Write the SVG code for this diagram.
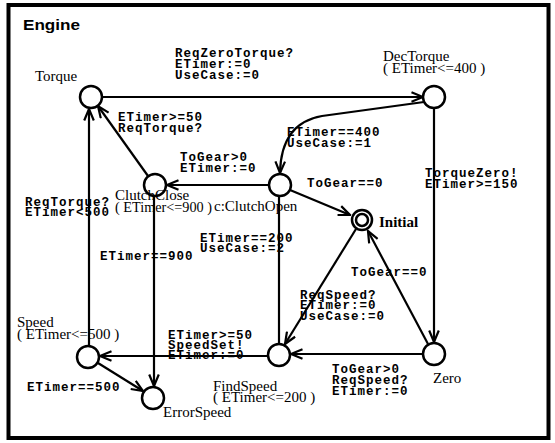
<svg xmlns="http://www.w3.org/2000/svg" width="555" height="443" viewBox="0 0 555 443">
<style>
.st{fill:#fff;stroke:#000;stroke-width:2.5}
.e{fill:none;stroke:#000;stroke-width:2.2}
.m{font-family:"Liberation Mono","Courier New",monospace;font-size:12.5px;font-weight:bold;letter-spacing:1px;fill:#000}
.n{font-family:"Liberation Serif","Times New Roman",serif;font-size:15px;fill:#000}
</style>
<defs>
<marker id="arr" viewBox="0 0 14 12" markerWidth="14" markerHeight="12" refX="12.5" refY="6" orient="auto" markerUnits="userSpaceOnUse">
<path d="M1,1.2 L12.5,6 L1,10.8" fill="none" stroke="#000" stroke-width="2.2"/>
</marker>
</defs>
<rect x="0" y="0" width="555" height="443" fill="#fff"/>
<rect x="8.5" y="5" width="540" height="433" fill="none" stroke="#000" stroke-width="4"/>
<text x="23" y="30" font-family="Liberation Sans,Arial,sans-serif" font-size="15" font-weight="bold" textLength="57" lengthAdjust="spacingAndGlyphs">Engine</text>

<g id="connectors">
<path class="e" d="M103,97 L423,97" marker-end="url(#arr)"/>
<path class="e" d="M424,102 L322,116 Q281,123 280,173" marker-end="url(#arr)"/>
<path class="e" d="M434,108 L434,342" marker-end="url(#arr)"/>
<path class="e" d="M269,185 L167,185" marker-end="url(#arr)"/>
<path class="e" d="M148,176 L98,106" marker-end="url(#arr)"/>
<path class="e" d="M89,346 L89,109" marker-end="url(#arr)"/>
<path class="e" d="M154,196 L154,386" marker-end="url(#arr)"/>
<path class="e" d="M290,190 L350,215" marker-end="url(#arr)"/>
<path class="e" d="M279,344 L279,196"/>
<path class="e" d="M356,229 L285,344" marker-end="url(#arr)"/>
<path class="e" d="M428,344 L368,231" marker-end="url(#arr)"/>
<path class="e" d="M423,354 L291,354" marker-end="url(#arr)"/>
<path class="e" d="M268,356 L100,356" marker-end="url(#arr)"/>
<path class="e" d="M98,363 L143,391" marker-end="url(#arr)"/>
</g>

<g id="edge-labels">
<text class="m" x="175" y="57">ReqZeroTorque?</text>
<text class="m" x="175" y="68">ETimer:=0</text>
<text class="m" x="175" y="79">UseCase:=0</text>
<text class="m" x="118" y="121">ETimer&gt;=50</text>
<text class="m" x="118" y="132">ReqTorque?</text>
<text class="m" x="287" y="136">ETimer==400</text>
<text class="m" x="287" y="147">UseCase:=1</text>
<text class="m" x="425" y="177">TorqueZero!</text>
<text class="m" x="425" y="188">ETimer&gt;=150</text>
<text class="m" x="180" y="161">ToGear&gt;0</text>
<text class="m" x="180" y="172">ETimer:=0</text>
<text class="m" x="307" y="187">ToGear==0</text>
<text class="m" x="25" y="206">ReqTorque?</text>
<text class="m" x="25" y="216">ETimer&lt;500</text>
<text class="m" x="200" y="242">ETimer==200</text>
<text class="m" x="200" y="252">UseCase:=2</text>
<text class="m" x="100" y="260">ETimer==900</text>
<text class="m" x="351" y="276">ToGear==0</text>
<text class="m" x="300" y="299">ReqSpeed?</text>
<text class="m" x="300" y="309">ETimer:=0</text>
<text class="m" x="300" y="320">UseCase:=0</text>
<text class="m" x="168" y="339">ETimer&gt;=50</text>
<text class="m" x="168" y="349">SpeedSet!</text>
<text class="m" x="168" y="359">ETimer:=0</text>
<text class="m" x="332" y="373">ToGear&gt;0</text>
<text class="m" x="332" y="384">ReqSpeed?</text>
<text class="m" x="332" y="395">ETimer:=0</text>
<text class="m" x="27" y="391">ETimer==500</text>
</g>

<g id="Torque">
<circle class="st" cx="91" cy="97" r="11"/>
<text class="n" x="35" y="81">Torque</text>
</g>
<g id="DecTorque">
<circle class="st" cx="434" cy="97" r="11"/>
<text class="n" x="383" y="61">DecTorque</text>
<text class="n" x="383" y="73">( ETimer&lt;=400 )</text>
</g>
<g id="ClutchClose">
<circle class="st" cx="155" cy="185" r="11"/>
<text class="n" x="115" y="200">ClutchClose</text>
<text class="n" x="115" y="212" textLength="97" lengthAdjust="spacingAndGlyphs">( ETimer&lt;=900 )</text>
</g>
<g id="ClutchOpen">
<circle class="st" cx="280" cy="185" r="11"/>
<text class="n" x="214" y="211">c:ClutchOpen</text>
</g>
<g id="Initial">
<circle class="st" cx="362" cy="220" r="10"/>
<circle fill="none" stroke="#000" stroke-width="2.5" cx="362" cy="220" r="6"/>
<text class="n" x="379" y="227" font-weight="bold" font-size="14">Initial</text>
</g>
<g id="Zero">
<circle class="st" cx="434" cy="354" r="11"/>
<text class="n" x="433" y="383">Zero</text>
</g>
<g id="FindSpeed">
<circle class="st" cx="279" cy="355" r="11"/>
<text class="n" x="213" y="391">FindSpeed</text>
<text class="n" x="213" y="402">( ETimer&lt;=200 )</text>
</g>
<g id="Speed">
<circle class="st" cx="88" cy="357" r="11"/>
<text class="n" x="17" y="327">Speed</text>
<text class="n" x="17" y="339">( ETimer&lt;=500 )</text>
</g>
<g id="ErrorSpeed">
<circle class="st" cx="153" cy="398" r="11"/>
<text class="n" x="163" y="417">ErrorSpeed</text>
</g>
</svg>
